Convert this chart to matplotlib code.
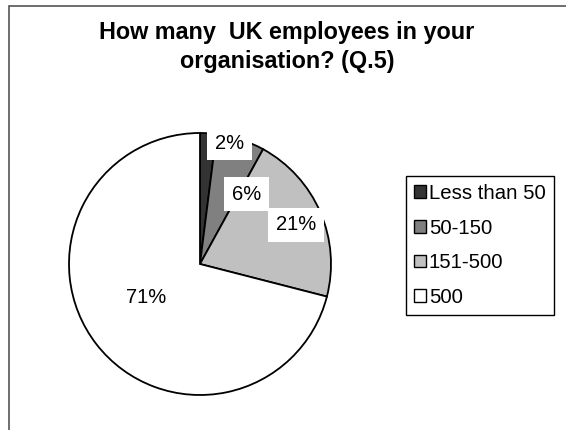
import matplotlib
matplotlib.use("Agg")
import matplotlib.pyplot as plt
from matplotlib.patches import Rectangle
import numpy as np

plt.rcParams['font.family'] = ['Liberation Sans', 'DejaVu Sans']

# Survey answers, share of respondents (%)
categories = ["Less than 50", "50-150", "151-500", "500"]
shares = [2, 6, 21, 71]
colors = ["#333333", "#808080", "#c0c0c0", "#ffffff"]
title = "How many  UK employees in your\norganisation? (Q.5)"

# Label placement inside the pie: (fraction of radius, degrees clockwise from 12 o'clock)
label_layout = [(0.95, 13.7), (0.64, 33.8), (0.79, 67.8), (0.48, 238.1)]

W, H = 566, 430
fig = plt.figure(figsize=(W / 100, H / 100), dpi=100)

# Outer chart frame (left and top edges visible)
fig.add_artist(Rectangle((8.5 / W, -0.1), 1.2, 1 - 6.5 / H + 0.1,
                         transform=fig.transFigure, fill=False,
                         edgecolor="#555555", lw=1.2))

cx, cy, r = 200, 264, 131
ax = fig.add_axes([(cx - r) / W, 1 - (cy + r) / H, 2 * r / W, 2 * r / H])
wedges, _ = ax.pie(shares, colors=colors, startangle=90, counterclock=False,
                   radius=1.0,
                   wedgeprops=dict(edgecolor="black", linewidth=1.3))
ax.set_xlim(-1, 1)
ax.set_ylim(-1, 1)
ax.set_aspect("equal")
ax.axis("off")

for val, (frac, ang) in zip(shares, label_layout):
    th = np.deg2rad(90 - ang)
    ax.text(frac * np.cos(th), frac * np.sin(th), f"{val}%",
            ha="center", va="center", fontsize=14.5, color="black",
            bbox=dict(facecolor="white", edgecolor="none", pad=5.5),
            clip_on=False)

fig.text(287 / W, 1 - 21 / H, title, ha="center", va="top",
         fontsize=16.8, fontweight="bold", linespacing=1.32)

leg = fig.legend(wedges, categories, loc="upper left",
                 bbox_to_anchor=(405.5 / W, 1 - 176 / H),
                 bbox_transform=fig.transFigure, borderaxespad=0,
                 fontsize=14.7, frameon=True, fancybox=False,
                 edgecolor="black", framealpha=1, labelspacing=0.76,
                 handlelength=0.6, handleheight=0.6, handletextpad=0.15,
                 borderpad=0.4)
leg.get_frame().set_linewidth(1.0)
for h in leg.legend_handles:
    h.set_edgecolor("black")
    h.set_linewidth(1.0)

fig.savefig("out.png", dpi=100)
